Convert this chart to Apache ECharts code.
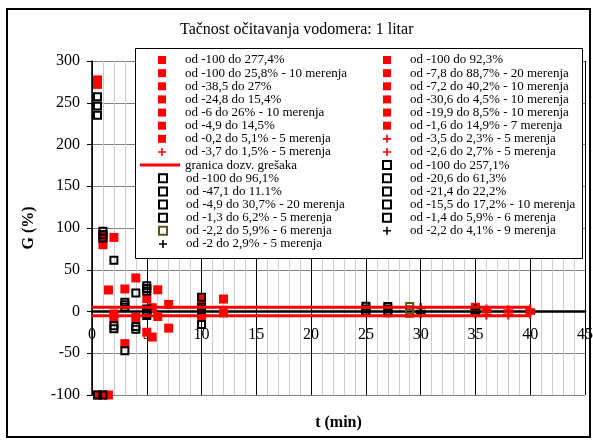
<!DOCTYPE html>
<html><head><meta charset="utf-8">
<script src="https://cdn.jsdelivr.net/npm/echarts@6/dist/echarts.min.js"></script>
<style>html,body{margin:0;padding:0;background:#fff}#c{width:593px;height:440px}</style>
</head><body><div id="c"></div>
<script>
// ---- DATA ----
const chartTitle = 'Tačnost očitavanja vodomera: 1 litar';
const xName = 't (min)';
const yName = 'G (%)';

const redSquareNames = ['od -100 do 277,4%','od -100 do 92,3%','od -100 do 25,8% - 10 merenja','od -7,8 do 88,7% - 20 merenja','od -38,5 do 27%','od -7,2 do 40,2% - 10 merenja','od -24,8 do 15,4%','od -30,6 do 4,5% - 10 merenja','od -6 do 26% - 10 merenja','od -19,9 do 8,5% - 10 merenja','od -4,9 do 14,5%','od -1,6 do 14,9% - 7 merenja','od -0,2 do 5,1% - 5 merenja'];
const redSquareTimes = [0.5, 1, 1.5, 2, 3, 4, 5, 5.5, 6, 7, 10, 12, 35];
const redSquareValues = [
  [277.4, 272, -100],
  [92.3, 88, 80, -100],
  [25.8, -100],
  [88.7, -3, -7.8],
  [27, -38.5],
  [40.2, -7.2],
  [15.4, -24.8],
  [4.5, -30.6],
  [26, -6],
  [8.5, -19.9],
  [14.5, 3, -4.9],
  [14.9, -1.6],
  [5.1, 2, -0.2]
];

const redPlusNames = ['od -3,5 do 2,3% - 5 merenja','od -3,7 do 1,5% - 5 merenja','od -2,6 do 2,7% - 5 merenja'];
const redPlusTimes = [36, 38, 40];
const redPlusValues = [[2.3, 0, -3.5],[1.5, -1, -3.7],[2.7, 0, -2.6]];

const limitName = 'granica dozv. grešaka';
const limitX = [0, 40];
const limitY = [5, -5];

const hollowNames = ['od -100 do 257,1%','od -100 do 96,1%','od -20,6 do 61,3%','od -47,1 do 11.1%','od -21,4 do 22,2%','od -4,9 do 30,7% - 20 merenja','od -15,5 do 17,2% - 10 merenja','od -1,3 do 6,2% - 5 merenja','od -1,4 do 5,9% - 6 merenja'];
const hollowTimes = [0.5, 1, 2, 3, 4, 5, 10, 25, 27];
const hollowValues = [
  [257.1, 246, 235, -100],
  [96.1, 92, 88, -100],
  [61.3, -17, -20.6],
  [11.1, 8, 5, -47.1],
  [22.2, -18, -21.4],
  [30.7, 27.5, 24.5, 3, 0, -2.5, -4.9],
  [17.2, 5, 2, -1, -15.5],
  [6.2, 3, 0, -1.3],
  [5.9, 3, 0, -1.4]
];

const oliveNames = ['od -2,2 do 5,9% - 6 merenja'];
const oliveTimes = [29];
const oliveValues = [[5.9, 2, -2.2]];

const blackPlusNames = ['od -2,2 do 4,1% - 9 merenja','od -2 do 2,9% - 5 merenja'];
const blackPlusTimes = [30, 35];
const blackPlusValues = [[4.1, 1, -2.2],[2.9, 0, -2]];

// legend layout (two columns, as in the reference)
const legendLeftA = ['od -100 do 277,4%','od -100 do 25,8% - 10 merenja','od -38,5 do 27%','od -24,8 do 15,4%','od -6 do 26% - 10 merenja','od -4,9 do 14,5%','od -0,2 do 5,1% - 5 merenja','od -3,7 do 1,5% - 5 merenja'];
const legendLeftB = ['granica dozv. grešaka'];
const legendLeftC = ['od -100 do 96,1%','od -47,1 do 11.1%','od -4,9 do 30,7% - 20 merenja','od -1,3 do 6,2% - 5 merenja','od -2,2 do 5,9% - 6 merenja','od -2 do 2,9% - 5 merenja'];
const legendRight = ['od -100 do 92,3%','od -7,8 do 88,7% - 20 merenja','od -7,2 do 40,2% - 10 merenja','od -30,6 do 4,5% - 10 merenja','od -19,9 do 8,5% - 10 merenja','od -1,6 do 14,9% - 7 merenja','od -3,5 do 2,3% - 5 merenja','od -2,6 do 2,7% - 5 merenja','od -100 do 257,1%','od -20,6 do 61,3%','od -21,4 do 22,2%','od -15,5 do 17,2% - 10 merenja','od -1,4 do 5,9% - 6 merenja','od -2,2 do 4,1% - 9 merenja'];

// ---- CHART ----
const FONT = 'Liberation Serif';
const PLUS = 'path://M4,0H6V4H10V6H6V10H4V6H0V4H4Z';
function pts(t, vals) { return vals.map(v => [t, v]); }

const series = [];
redSquareNames.forEach((n, i) => series.push({
  name: n, type: 'scatter', symbol: 'rect', symbolSize: 9,
  itemStyle: { color: '#ff0000', opacity: 1 }, data: pts(redSquareTimes[i], redSquareValues[i])
}));
redPlusNames.forEach((n, i) => series.push({
  name: n, type: 'scatter', symbol: PLUS, symbolSize: 10,
  itemStyle: { color: '#ff0000', opacity: 1 }, data: pts(redPlusTimes[i], redPlusValues[i])
}));
series.push({
  name: limitName, type: 'line', symbol: 'none', showSymbol: false, connectNulls: false,
  lineStyle: { color: '#ff0000', width: 3 }, itemStyle: { color: '#ff0000' },
  data: [[limitX[0], limitY[0]], [limitX[1], limitY[0]], [null, null], [limitX[0], limitY[1]], [limitX[1], limitY[1]]]
});
hollowNames.forEach((n, i) => series.push({
  name: n, type: 'scatter', symbol: 'rect', symbolSize: 7,
  itemStyle: { color: 'rgba(0,0,0,0)', borderColor: '#000', borderWidth: 2, opacity: 1 },
  data: pts(hollowTimes[i], hollowValues[i])
}));
oliveNames.forEach((n, i) => series.push({
  name: n, type: 'scatter', symbol: 'rect', symbolSize: 7,
  itemStyle: { color: 'rgba(0,0,0,0)', borderColor: '#55551a', borderWidth: 2, opacity: 1 },
  data: pts(oliveTimes[i], oliveValues[i])
}));
blackPlusNames.forEach((n, i) => series.push({
  name: n, type: 'scatter', symbol: PLUS, symbolSize: 10,
  itemStyle: { color: '#000', opacity: 1 }, data: pts(blackPlusTimes[i], blackPlusValues[i])
}));

const rowH = 13.14, firstTop = 53.5;
const legText = { fontFamily: FONT, fontSize: 13, color: '#000', lineHeight: 13 };
function sqLegend(data, left, top) {
  return {
    data: data, orient: 'vertical', left: left, top: top, padding: 0,
    itemWidth: 8, itemHeight: 8, itemGap: rowH - 13, selectedMode: false, z: 200,
    textStyle: Object.assign({ padding: [0, 0, 0, 14] }, legText)
  };
}

const chart = echarts.init(document.getElementById('c'), null, { renderer: 'canvas' });
chart.setOption({
  animation: false,
  backgroundColor: '#fff',
  title: {
    text: chartTitle, left: 180, top: 22, padding: 0,
    textStyle: { fontFamily: FONT, fontSize: 16, fontWeight: 'normal', color: '#000' }
  },
  grid: { left: 92, right: 8, top: 61, bottom: 45, containLabel: false, outerBoundsMode: 'none' },
  xAxis: {
    type: 'value', min: 0, max: 45, interval: 5,
    name: xName, nameLocation: 'middle', nameGap: 20,
    nameTextStyle: { fontFamily: FONT, fontSize: 16, fontWeight: 'bold', color: '#000' },
    axisLine: { onZero: true, lineStyle: { color: '#000', width: 2.5 } },
    axisTick: { show: false },
    axisLabel: { fontFamily: FONT, fontSize: 16, color: '#000', margin: -68 },
    splitLine: { show: true, lineStyle: { color: '#000', width: 1 } },
    minorTick: { show: false, splitNumber: 5 },
    minorSplitLine: { show: true, lineStyle: { color: '#cccccc', width: 1 } }
  },
  yAxis: {
    type: 'value', min: -100, max: 300, interval: 50,
    name: yName, nameLocation: 'middle', nameGap: 55, nameRotate: 90,
    nameTextStyle: { fontFamily: FONT, fontSize: 16, fontWeight: 'bold', color: '#000' },
    axisLine: { onZero: false, lineStyle: { color: '#000', width: 1.5 } },
    axisTick: { show: true, inside: false, length: 5, lineStyle: { color: '#000' } },
    axisLabel: { fontFamily: FONT, fontSize: 16, color: '#000', margin: 12 },
    splitLine: { show: true, lineStyle: { color: '#808080', width: 1 } }
  },
  legend: [
    sqLegend(legendLeftA, 158, firstTop),
    {
      data: [{ name: legendLeftB[0], icon: 'path://M0,0H40V3H0Z' }],
      orient: 'vertical', left: 140, top: firstTop + 8 * rowH, padding: 0,
      itemWidth: 40, itemHeight: 8, selectedMode: false, z: 200, textStyle: legText
    },
    sqLegend(legendLeftC, 158, firstTop + 9 * rowH),
    sqLegend(legendRight, 382, firstTop)
  ],
  graphic: [
    { type: 'rect', z: 100, shape: { x: 135.5, y: 48.5, width: 447, height: 210 },
      style: { fill: '#fff', stroke: '#000', lineWidth: 1 } },
    { type: 'rect', z: 0, shape: { x: 7, y: 9, width: 583, height: 428 },
      style: { fill: 'none', stroke: '#000', lineWidth: 2 } }
  ],
  series: series
});
</script></body></html>
